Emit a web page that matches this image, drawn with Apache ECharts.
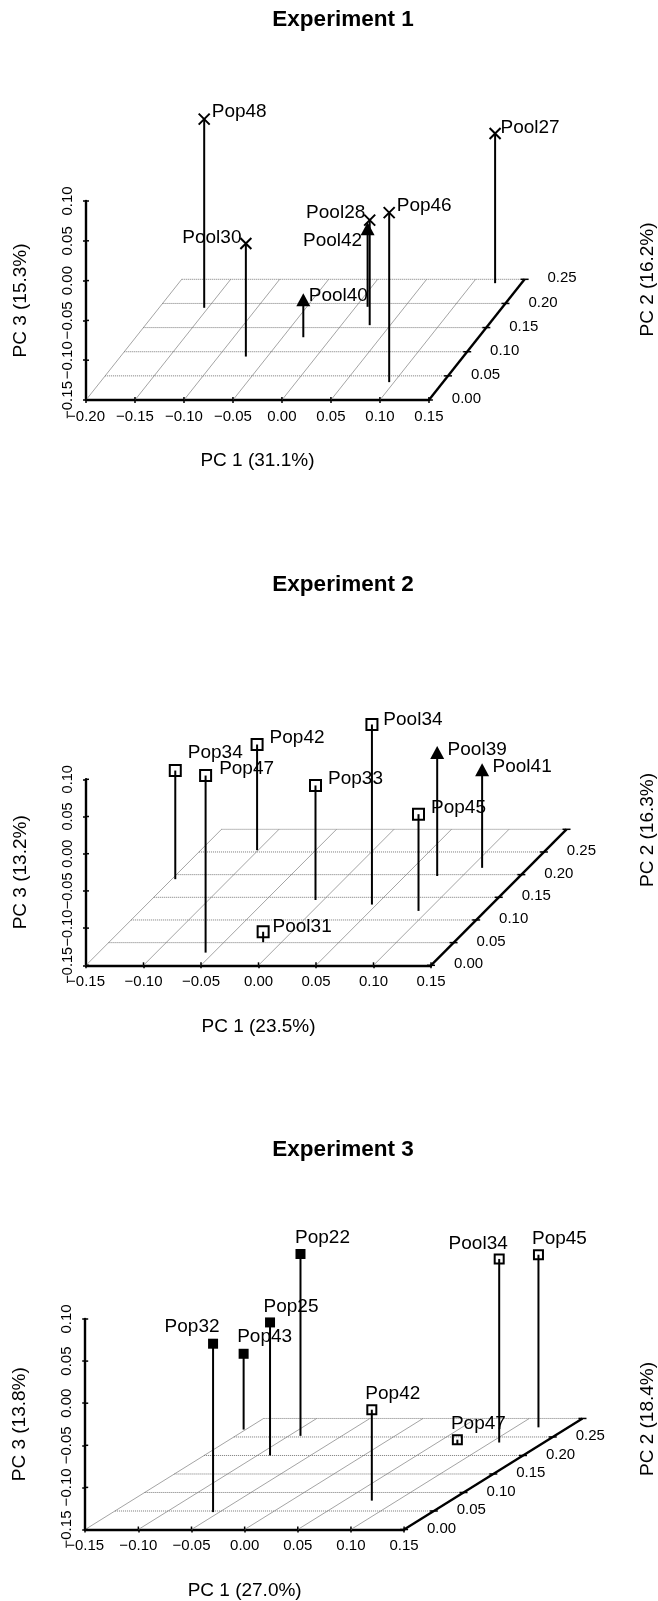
<!DOCTYPE html>
<html><head><meta charset="utf-8">
<style>html,body{margin:0;padding:0;background:#fff}#c{width:658px;height:1601px}</style>
<script src="https://cdn.jsdelivr.net/npm/echarts@6/dist/echarts.min.js"></script>
</head><body><div id="c"></div>
<script>
// ---- data ----
const exp1Names = ['Pop48','Pool30','Pop46','Pool28','Pool27','Pool40','Pool42'];
const exp1Kinds = ['cross','cross','cross','cross','cross','tri','tri'];
const exp1PC1 = [-0.154,-0.072,0.095,0.029,0.123,-0.029,0.012];
const exp1PC2 = [0.191,0.090,0.037,0.155,0.242,0.130,0.193];
const exp1PC3 = [0.087,-0.008,0.063,-0.018,0.038,-0.103,-0.052];

const exp2Names = ['Pop34','Pop47','Pop42','Pop33','Pool34','Pop45','Pool31','Pool39','Pool41'];
const exp2Kinds = ['open','open','open','open','open','open','open','tri','tri'];
const exp2PC1 = [-0.147,-0.057,-0.101,-0.007,0.046,0.092,-0.016,0.078,0.110];
const exp2PC2 = [0.190,0.028,0.254,0.144,0.134,0.120,0.051,0.197,0.215];
const exp2PC3 = [-0.004,0.088,-0.008,0.004,0.092,-0.020,-0.136,0.016,-0.018];

const exp3Names = ['Pop32','Pop43','Pop25','Pop22','Pop42','Pop47','Pool34','Pop45'];
const exp3Kinds = ['solid','solid','solid','solid','open','open','open','open'];
const exp3PC1 = [-0.056,-0.152,-0.088,-0.089,0.076,0.072,0.108,0.122];
const exp3PC2 = [0.047,0.270,0.200,0.253,0.078,0.229,0.235,0.276];
const exp3PC3 = [0.050,-0.060,0.008,0.066,-0.042,-0.144,0.068,0.055];

const titles = ['Experiment 1','Experiment 2','Experiment 3'];
const pc1Names = ['PC 1 (31.1%)','PC 1 (23.5%)','PC 1 (27.0%)'];
const pc2Names = ['PC 2 (16.2%)','PC 2 (16.3%)','PC 2 (18.4%)'];
const pc3Names = ['PC 3 (15.3%)','PC 3 (13.2%)','PC 3 (13.8%)'];
const pc1Mins = [-0.20,-0.15,-0.15];
const pc1Max = 0.15;
const pc3Min = -0.15, pc3Max = 0.10;
const pc2Tops = [0.25,0.30,0.30];
const pc2Step = 0.05, pc2LabelMax = 0.25;

// ---- layout and styling ----
const frames = [
  {left:86,  top:201,   width:342.9, height:199,   slantX:0.3908, slantY:0.6065, titleY:14.5, pc2Name:[647.5,279.5], pc1NameY:462, pc3Font:15},
  {left:86,  top:779.3, width:345,   height:186,   slantX:0.3928, slantY:0.6093, titleY:580,  pc2Name:[647.5,830],   pc1NameY:1028.7, pc3Font:14.5},
  {left:85.2,top:1319,  width:318.9, height:211,   slantX:0.5594, slantY:0.4396, titleY:1145, pc2Name:[647.5,1419],  pc1NameY:1592.5, pc3Font:15}
];
const labelNudges = [
  {Pop48:[35,-7],Pool30:[-34,-6],Pop46:[35,-7],Pool28:[-34,-7],Pool27:[35,-6],Pool40:[35,-4],Pool42:[-35,12]},
  {Pop34:[40,-18],Pop47:[41,-7],Pop42:[40,-7],Pop33:[40,-7],Pool34:[41,-5],Pop45:[40,-6],Pool31:[39,-5],Pool39:[40,-3],Pool41:[40,-3]},
  {Pop32:[-21,-17],Pop43:[21,-17],Pop25:[21,-16],Pop22:[22,-16],Pop42:[21,-16],Pop47:[21,-16],Pool34:[-21,-15],Pop45:[21,-16]}
];
const markerSizes = [
  {cross:11,tri:[14,13]},
  {open:11,tri:[14,13]},
  {open:9,solid:10}
];
const ink = '#000';
const FONT = '"Liberation Sans", Arial, sans-serif';
const TICK = 15, NAME = 19, POINT = 19, TITLE = 22.5;

const experiments = [
  {names:exp1Names,kinds:exp1Kinds,pc1:exp1PC1,pc2:exp1PC2,pc3:exp1PC3},
  {names:exp2Names,kinds:exp2Kinds,pc1:exp2PC1,pc2:exp2PC2,pc3:exp2PC3},
  {names:exp3Names,kinds:exp3Kinds,pc1:exp3PC1,pc2:exp3PC2,pc3:exp3PC3}
];

const fmt = v => v.toFixed(2).replace('-', '\u2212');
function steps(a, b, s){ const out=[]; const n=Math.round((b-a)/s); for(let i=0;i<=n;i++) out.push(+(a+i*s).toFixed(2)); return out; }

const option = {
  backgroundColor:'#fff', animation:false,
  textStyle:{fontFamily:FONT,color:ink},
  title:[], grid:[], xAxis:[], yAxis:[], series:[], graphic:[]
};

experiments.forEach((ex, i) => {
  const f = frames[i];
  const project = (p1,p2,p3) => [p1 + f.slantX*p2, p3 + f.slantY*p2];
  const pc1Ticks = steps(pc1Mins[i], pc1Max, 0.05);
  const pc3Ticks = steps(pc3Min, pc3Max, 0.05);
  const pc2Ticks = steps(0, pc2Tops[i], pc2Step);

  option.title.push({text:titles[i], left:338, top:f.titleY-13, textAlign:'center',
    textStyle:{fontFamily:FONT,fontWeight:'bold',fontSize:TITLE,color:ink,lineHeight:26}});
  option.grid.push({left:f.left, top:f.top, width:f.width, height:f.height, containLabel:false});
  option.xAxis.push({type:'value', gridIndex:i, min:pc1Mins[i], max:pc1Max, interval:0.05,
    name:pc1Names[i], nameLocation:'middle', nameGap:f.pc1NameY-f.top-f.height-11,
    nameTextStyle:{fontFamily:FONT,fontSize:NAME,color:ink},
    splitLine:{show:false},
    axisLine:{show:true,onZero:false,lineStyle:{color:ink,width:2.4}},
    axisTick:{show:true,length:3,lineStyle:{color:ink,width:1.5}},
    axisLabel:{show:true,margin:9,fontFamily:FONT,fontSize:TICK,color:ink,formatter:fmt,hideOverlap:false,showMinLabel:true,showMaxLabel:true}});
  option.yAxis.push({type:'value', gridIndex:i, min:pc3Min, max:pc3Max, interval:0.05,
    name:pc3Names[i], nameLocation:'middle', nameGap:56, nameRotate:90,
    nameTextStyle:{fontFamily:FONT,fontSize:NAME,color:ink},
    splitLine:{show:false},
    axisLine:{show:true,onZero:false,lineStyle:{color:ink,width:2.4}},
    axisTick:{show:true,length:3,lineStyle:{color:ink,width:1.5}},
    axisLabel:{show:true,rotate:90,margin:11,fontFamily:FONT,fontSize:f.pc3Font,color:ink,formatter:fmt,hideOverlap:false,showMinLabel:true,showMaxLabel:true}});

  // floor grid, inner ticks and the oblique PC 2 axis
  option.series.push({type:'custom', xAxisIndex:i, yAxisIndex:i, silent:true, z:1, data:[[0,0]],
    renderItem:(params, api) => {
      const c = (p1,p2,p3) => api.coord(project(p1,p2,p3));
      const seg = (a,b,style) => ({type:'line',shape:{x1:a[0],y1:a[1],x2:b[0],y2:b[1]},style});
      const kids = [];
      const top = pc2Ticks[pc2Ticks.length-1];
      pc1Ticks.slice(0,-1).forEach(p1 => kids.push(seg(c(p1,0,pc3Min),c(p1,top,pc3Min),{stroke:'#9a9a9a',lineWidth:0.9})));
      pc2Ticks.slice(1).forEach(p2 => kids.push(seg(c(pc1Mins[i],p2,pc3Min),c(pc1Max,p2,pc3Min),{stroke:'#777',lineWidth:1,lineDash:[1,1]})));
      // inner halves of the tick marks on the two library axes
      pc1Ticks.forEach(p1 => { const a=api.coord([p1,pc3Min]); kids.push(seg(a,[a[0],a[1]-3],{stroke:ink,lineWidth:1.5})); });
      pc3Ticks.forEach(p3 => { const a=api.coord([pc1Mins[i],p3]); kids.push(seg(a,[a[0]+3,a[1]],{stroke:ink,lineWidth:1.5})); });
      // PC 2 axis
      kids.push(seg(c(pc1Max,0,pc3Min),c(pc1Max,top,pc3Min),{stroke:ink,lineWidth:2.4}));
      pc2Ticks.forEach(p2 => {
        const a=c(pc1Max,p2,pc3Min);
        kids.push(seg([a[0]-4,a[1]],[a[0]+4,a[1]],{stroke:ink,lineWidth:1.5}));
        if(p2 <= pc2LabelMax) kids.push({type:'text',x:a[0]+37.5,y:a[1]-1,
          style:{text:fmt(p2),fontFamily:FONT,fontSize:TICK,fill:ink,align:'center',verticalAlign:'middle'}});
      });
      return {type:'group',children:kids};
    }});

  // stems
  option.series.push({type:'custom', name:'stems '+titles[i], xAxisIndex:i, yAxisIndex:i, silent:true, z:3,
    data: ex.names.map((n,k) => [ex.pc1[k],ex.pc2[k],ex.pc3[k]]),
    renderItem:(params, api) => {
      const p1=api.value(0),p2=api.value(1),p3=api.value(2);
      const a=api.coord(project(p1,p2,p3)), b=api.coord(project(p1,p2,pc3Min));
      return {type:'line',shape:{x1:a[0],y1:a[1],x2:b[0],y2:b[1]},style:{stroke:ink,lineWidth:2}};
    }});

  // markers with their labels
  const looks = {
    cross:{symbol:'path://M0 0L10 10M10 0L0 10',itemStyle:{color:'none',borderColor:ink,borderWidth:2,opacity:1}},
    tri:{symbol:'triangle',itemStyle:{color:ink,opacity:1}},
    open:{symbol:'rect',itemStyle:{color:'rgba(255,255,255,0)',borderColor:ink,borderWidth:2,opacity:1}},
    solid:{symbol:'rect',itemStyle:{color:ink,opacity:1}}
  };
  [...new Set(ex.kinds)].forEach(kind => {
    const rows = ex.names.map((n,k) => ({n,k})).filter(r => ex.kinds[r.k]===kind);
    option.series.push(Object.assign({type:'scatter', name:kind+' '+titles[i], xAxisIndex:i, yAxisIndex:i, z:5, clip:false,
      symbolSize:markerSizes[i][kind],
      data: rows.map(r => ({name:r.n, value:project(ex.pc1[r.k],ex.pc2[r.k],ex.pc3[r.k]),
        label:{show:true,position:'inside',offset:labelNudges[i][r.n],formatter:'{b}',fontFamily:FONT,fontSize:POINT,color:ink}}))
    }, looks[kind]));
  });

  option.graphic.push({type:'text', x:f.pc2Name[0], y:f.pc2Name[1], rotation:Math.PI/2, silent:true,
    style:{text:pc2Names[i],fontFamily:FONT,fontSize:NAME,fill:ink,align:'center',verticalAlign:'middle'}});
});

echarts.init(document.getElementById('c'),null,{renderer:'canvas'}).setOption(option);
</script></body></html>
